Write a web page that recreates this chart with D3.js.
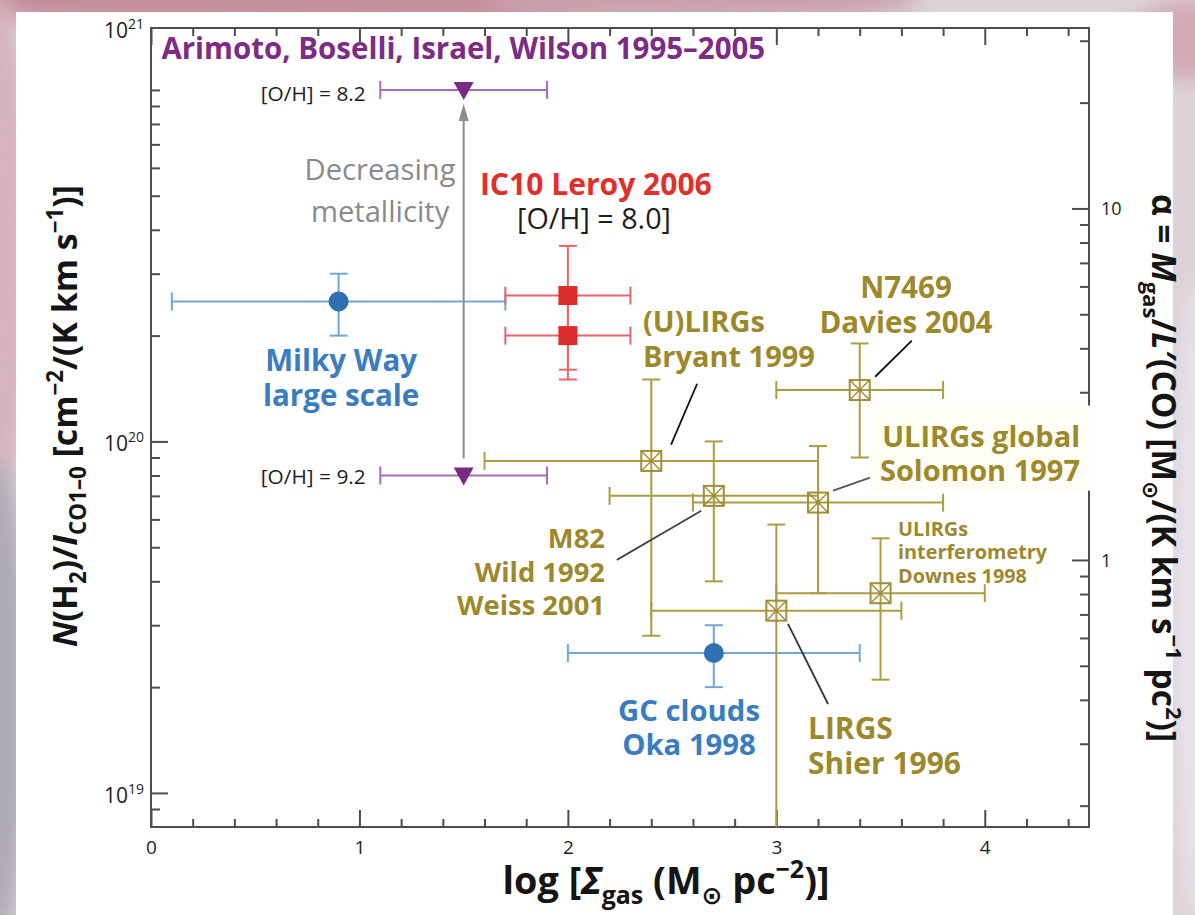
<!DOCTYPE html>
<html>
<head>
<meta charset="utf-8">
<script src="https://cdn.jsdelivr.net/npm/d3@7"></script>
<style>
  html, body { margin: 0; padding: 0; background: #fff; }
  svg { display: block; }
  text { font-family: "Open Sans", "Noto Sans", "DejaVu Sans", sans-serif; }
</style>
</head>
<body>
<svg id="chart" width="1195" height="915"></svg>
<script>
// ---------------- data ----------------
// x: log surface density of gas, y: CO-to-H2 conversion factor N(H2)/I_CO

// Milky Way large scale, Galactic centre clouds (blue)
const mwName = ["Milky Way large scale", "GC clouds Oka 1998"];
const mwX    = [0.9, 2.7];
const mwXlo  = [0.1, 2.0];
const mwXhi  = [1.7, 3.4];
const mwY    = [2.5e20, 2.5e19];
const mwYlo  = [2.0e20, 2.0e19];
const mwYhi  = [3.0e20, 3.0e19];

// IC10, Leroy 2006 (red)
const icX    = [2.0, 2.0];
const icXlo  = [1.7, 1.7];
const icXhi  = [2.3, 2.3];
const icY    = [2.6e20, 2.0e20];
const icYlo  = [1.6e20, 1.5e20];
const icYhi  = [3.6e20, 2.6e20];

// Metallicity bracket, Arimoto/Boselli/Israel/Wilson (purple)
const ohLabel = ["[O/H] = 8.2", "[O/H] = 9.2"];
const ohX    = [1.5, 1.5];
const ohXlo  = [1.1, 1.1];
const ohXhi  = [1.9, 1.9];
const ohY    = [1.0e21, 8.0e19];

// Starbursts and (U)LIRGs (olive)
const irName = ["Bryant 1999", "Davies 2004", "M82", "Solomon 1997", "Downes 1998", "Shier 1996"];
const irX    = [2.4, 3.4, 2.7, 3.2, 3.5, 3.0];
const irXlo  = [1.6, 3.0, 2.2, 2.6, 3.0, 2.4];
const irXhi  = [3.2, 3.8, 3.2, 3.8, 4.0, 3.6];
const irY    = [8.8e19, 1.4e20, 7.0e19, 6.7e19, 3.7e19, 3.3e19];
const irYlo  = [2.8e19, 9.0e19, 4.0e19, 3.7e19, 2.1e19, 5.0e18];
const irYhi  = [1.5e20, 1.9e20, 1.0e20, 9.7e19, 5.3e19, 5.8e19];

// axes
const xTicks      = [0, 1, 2, 3, 4];
const yTickExp    = [19, 20, 21];
const alphaTicks  = [1, 10];
const xcoPerAlpha = 4.6e19;   // X_CO for alpha = 1 Msun/(K km s^-1 pc^2)

// ---------------- layout ----------------
const W = 1195, H = 915;
const plot = { left: 151, right: 1089, top: 28, bottom: 827 };

const COL = {
  blue: "#3a7dbf", blueLine: "#6ea7d8", blueMark: "#2f70b3",
  red: "#e0302b", redLine: "#e8656d", redMark: "#db2d29",
  purple: "#7c2c86", purpleLine: "#a86cb6", purpleMark: "#7a2a84",
  olive: "#9c892b", oliveLine: "#ad9d42", oliveMark: "#a28e34",
  grey: "#8a8a8a", axis: "#4d4d4d", ink: "#1e1e1e"
};

const x = d3.scaleLinear().domain([0, 4.5]).range([plot.left, plot.right]);
const y = d3.scaleLog().domain([8e18, 1.5e21]).range([plot.bottom, plot.top]);
const yAlpha = d3.scaleLog()
  .domain(y.domain().map(v => v / xcoPerAlpha))
  .range([plot.bottom, plot.top]);
const yl = v => y(Math.pow(10, v));   // position from log10 value

const svg = d3.select("#chart");
const defs = svg.append("defs");
defs.append("filter").attr("id", "haze")
  .attr("x", "-50%").attr("y", "-50%").attr("width", "200%").attr("height", "200%")
  .append("feGaussianBlur").attr("stdDeviation", 9);
defs.append("clipPath").attr("id", "plotClip").append("rect")
  .attr("x", plot.left).attr("y", plot.top)
  .attr("width", plot.right - plot.left).attr("height", plot.bottom - plot.top);

// ---------------- backdrop ----------------
const bg = svg.append("g");
bg.append("rect").attr("width", W).attr("height", H).attr("fill", "#ddd2d7");
const haze = bg.append("g").attr("filter", "url(#haze)");
[
  [330, 0, 430, 26, "#c58e9b"],
  [700, 0, 220, 20, "#c9a0aa"],
  [0, 250, 26, 260, "#d5b2bd"],
  [0, 700, 26, 240, "#aeaab6"],
  [1195, 40, 70, 40, "#d3aab4"],
  [1195, 600, 22, 320, "#e6e2e8"]
].forEach(([cx, cy, rx, ry, c]) =>
  haze.append("ellipse").attr("cx", cx).attr("cy", cy).attr("rx", rx).attr("ry", ry).attr("fill", c));
bg.append("rect").attr("x", 16).attr("y", 12).attr("width", 1157).attr("height", H - 12).attr("fill", "#fff");

// ---------------- axes ----------------
const frame = svg.append("g");
const minorLog = (lo, hi, majors) => {
  const out = [];
  for (let e = Math.floor(Math.log10(lo)); e <= Math.ceil(Math.log10(hi)); e++)
    for (let m = 1; m < 10; m++) {
      const v = m * Math.pow(10, e);
      if (v > lo * 1.001 && v < hi && !majors.some(t => Math.abs(t - v) / v < 1e-6)) out.push(v);
    }
  return out;
};
const xMinor = d3.range(0.2, 4.5, 0.2).filter(v => Math.abs(v - Math.round(v)) > 1e-6);
const yMajor = [1e19, 1e20];
const yMinor = minorLog(8e18, 1.5e21, yMajor);
const aMinor = minorLog(yAlpha.domain()[0], yAlpha.domain()[1], alphaTicks);

function styleAxis(g) {
  g.select(".domain").remove();
  g.selectAll(".tick line").attr("stroke", COL.axis).attr("stroke-width", 2);
}
// bottom
frame.append("g").attr("transform", `translate(0,${plot.bottom})`)
  .call(d3.axisBottom(x).tickValues(xTicks).tickSize(-17).tickSizeOuter(0).tickPadding(14).tickFormat(d3.format("d")))
  .call(styleAxis)
  .call(g => g.selectAll("text").attr("font-size", 19).attr("fill", COL.ink).attr("font-family", null));
frame.append("g").attr("transform", `translate(0,${plot.bottom})`)
  .call(d3.axisBottom(x).tickValues(xMinor).tickSize(-8).tickSizeOuter(0).tickFormat(""))
  .call(styleAxis);
// top
frame.append("g").attr("transform", `translate(0,${plot.top})`)
  .call(d3.axisTop(x).tickValues(xTicks).tickSize(-17).tickSizeOuter(0).tickFormat(""))
  .call(styleAxis);
frame.append("g").attr("transform", `translate(0,${plot.top})`)
  .call(d3.axisTop(x).tickValues(xMinor).tickSize(-8).tickSizeOuter(0).tickFormat(""))
  .call(styleAxis);
// left
frame.append("g").attr("transform", `translate(${plot.left},0)`)
  .call(d3.axisLeft(y).tickValues(yMajor).tickSize(-17).tickSizeOuter(0).tickFormat(""))
  .call(styleAxis);
frame.append("g").attr("transform", `translate(${plot.left},0)`)
  .call(d3.axisLeft(y).tickValues(yMinor).tickSize(-9).tickSizeOuter(0).tickFormat(""))
  .call(styleAxis);
// right (alpha)
frame.append("g").attr("transform", `translate(${plot.right},0)`)
  .call(d3.axisRight(yAlpha).tickValues(alphaTicks).tickSize(-17).tickSizeOuter(0).tickFormat(""))
  .call(styleAxis);
frame.append("g").attr("transform", `translate(${plot.right},0)`)
  .call(d3.axisRight(yAlpha).tickValues(aMinor).tickSize(-9).tickSizeOuter(0).tickFormat(""))
  .call(styleAxis);

frame.append("rect")
  .attr("x", plot.left).attr("y", plot.top)
  .attr("width", plot.right - plot.left).attr("height", plot.bottom - plot.top)
  .attr("fill", "none").attr("stroke", COL.axis).attr("stroke-width", 2);

// left tick labels: powers of ten (the top one sits at the frame corner)
yTickExp.forEach(e => {
  const ty = e === 21 ? y.range()[1] : y(Math.pow(10, e));
  const t = frame.append("text").attr("x", plot.left - 7).attr("y", ty + 10)
    .attr("text-anchor", "end").attr("font-size", 21).attr("fill", COL.ink);
  t.append("tspan").text("10");
  t.append("tspan").attr("font-size", 14).attr("dy", -9).text(String(e));
});
// right tick labels
alphaTicks.forEach(a => {
  frame.append("text").attr("x", plot.right + 12).attr("y", yAlpha(a) + 7)
    .attr("font-size", 18).attr("fill", COL.ink).text(String(a));
});

// ---------------- rich text helpers ----------------
function rich(sel, parts, fs) {
  sel.selectAll("tspan").remove();
  let shift = 0;
  parts.forEach(p => {
    const part = typeof p === "string" ? { t: p } : p;
    const target = part.sub ? 0.26 * fs : part.sup ? -0.42 * fs : 0;
    const ts = sel.append("tspan").text(part.t);
    if (part.sub || part.sup) ts.attr("font-size", fs * 0.66);
    if (part.italic) ts.attr("font-style", "italic");
    if (target - shift) ts.attr("dy", target - shift);
    shift = target;
  });
}
function fitRich(sel, parts, fs, span) {
  sel.attr("font-size", fs); rich(sel, parts, fs);
  const nfs = fs * span / sel.node().getComputedTextLength();
  sel.attr("font-size", nfs); rich(sel, parts, nfs);
  return nfs;
}

// axis titles
fitRich(svg.append("text").attr("x", 666).attr("y", 894).attr("text-anchor", "middle")
  .attr("font-weight", "bold").attr("fill", "#151515"),
  ["log [", { t: "Σ", italic: true }, { t: "gas", sub: true }, " (M", { t: "⊙", sub: true },
   " pc", { t: "−2", sup: true }, ")]"], 34, 327);
fitRich(svg.append("text").attr("transform", "translate(77,416) rotate(-90)").attr("text-anchor", "middle")
  .attr("font-weight", "bold").attr("fill", "#151515"),
  [{ t: "N", italic: true }, "(H", { t: "2", sub: true }, ")/", { t: "I", italic: true },
   { t: "CO1–0", sub: true }, " [cm", { t: "−2", sup: true }, "/(K km s", { t: "−1", sup: true }, ")]"], 33, 462);
fitRich(svg.append("text").attr("transform", "translate(1152,468) rotate(90)").attr("text-anchor", "middle")
  .attr("font-weight", "bold").attr("fill", "#151515"),
  ["α = ", { t: "M", italic: true }, { t: "gas", sub: true }, "/", { t: "L′", italic: true },
   "(CO) [M", { t: "⊙", sub: true }, "/(K km s", { t: "−1", sup: true }, " pc", { t: "2", sup: true }, ")]"], 31, 548);

// ---------------- plot content ----------------
const body = svg.append("g").attr("clip-path", "url(#plotClip)");
const CAP = 9;

function errorBars(g, xs, xlo, xhi, ys, ylo, yhi, color) {
  xs.forEach((xv, i) => {
    const cy = y(ys[i]), cx = x(xv);
    const l = x(xlo[i]), r = x(xhi[i]);
    const lineAttrs = s => s.attr("stroke", color).attr("stroke-width", 2).attr("fill", "none");
    g.append("line").attr("x1", l).attr("x2", r).attr("y1", cy).attr("y2", cy).call(lineAttrs);
    [l, r].forEach(px => g.append("line").attr("x1", px).attr("x2", px)
      .attr("y1", cy - CAP).attr("y2", cy + CAP).call(lineAttrs));
    if (ylo && ylo[i] != null) {
      const b = y(ylo[i]), t = y(yhi[i]);
      g.append("line").attr("x1", cx).attr("x2", cx).attr("y1", b).attr("y2", t).call(lineAttrs);
      [b, t].forEach(py => g.append("line").attr("x1", cx - CAP).attr("x2", cx + CAP)
        .attr("y1", py).attr("y2", py).call(lineAttrs));
    }
  });
}

// metallicity arrow (behind the triangles)
const arrowG = body.append("g");
arrowG.append("line")
  .attr("x1", x(ohX[1])).attr("x2", x(ohX[1]))
  .attr("y1", y(ohY[1]) - 17).attr("y2", y(ohY[0]) + 26)
  .attr("stroke", "#8c8c8c").attr("stroke-width", 2);
arrowG.append("path")
  .attr("d", `M${x(ohX[0])},${y(ohY[0]) + 14} l-5,17 l10,0 z`)
  .attr("fill", "#8c8c8c");

errorBars(body, ohX, ohXlo, ohXhi, ohY, null, null, COL.purpleLine);
errorBars(body, mwX, mwXlo, mwXhi, mwY, mwYlo, mwYhi, COL.blueLine);
errorBars(body, irX, irXlo, irXhi, irY, irYlo, irYhi, COL.oliveLine);
errorBars(body, icX, icXlo, icXhi, icY, icYlo, icYhi, COL.redLine);

// markers
body.selectAll(".mw").data(mwX).join("circle")
  .attr("cx", d => x(d)).attr("cy", (d, i) => y(mwY[i])).attr("r", 10)
  .attr("fill", COL.blueMark);
body.selectAll(".ic").data(icX).join("rect")
  .attr("x", d => x(d) - 9.5).attr("y", (d, i) => y(icY[i]) - 9.5)
  .attr("width", 19).attr("height", 19).attr("fill", COL.redMark);
body.selectAll(".oh").data(ohX).join("path")
  .attr("d", (d, i) => `M${x(d) - 10},${y(ohY[i]) - 8} L${x(d) + 10},${y(ohY[i]) - 8} L${x(d)},${y(ohY[i]) + 10} Z`)
  .attr("fill", COL.purpleMark);
irX.forEach((xv, i) => {
  const cx = x(xv), cy = y(irY[i]), s = 10;
  const g = body.append("g").attr("stroke", COL.oliveMark).attr("stroke-width", 2).attr("fill", "none");
  g.append("rect").attr("x", cx - s).attr("y", cy - s).attr("width", 2 * s).attr("height", 2 * s);
  g.append("line").attr("x1", cx - s).attr("y1", cy - s).attr("x2", cx + s).attr("y2", cy + s).attr("stroke-width", 1.4);
  g.append("line").attr("x1", cx - s).attr("y1", cy + s).attr("x2", cx + s).attr("y2", cy - s).attr("stroke-width", 1.4);
  g.append("circle").attr("cx", cx).attr("cy", cy).attr("r", 2).attr("fill", COL.oliveMark).attr("stroke", "none");
});

// leader lines (data coordinates: log sigma, log X)
const leaders = [
  [[2.62, 20.164], [2.495, 19.991], "#111"],
  [[3.65, 20.287], [3.474, 20.184], "#111"],
  [[3.45, 19.897], [3.272, 19.860], "#555"],
  [[2.64, 19.803], [2.235, 19.663], "#444"],
  [[3.056, 19.481], [3.248, 19.253], "#333"]
];
leaders.forEach(([a, b, c]) => body.append("line")
  .attr("x1", x(a[0])).attr("y1", yl(a[1])).attr("x2", x(b[0])).attr("y2", yl(b[1]))
  .attr("stroke", c).attr("stroke-width", 1.8));

// label box for the Solomon group (sits over the frame edge)
svg.append("rect")
  .attr("x", x(3.449)).attr("y", yl(20.102))
  .attr("width", plot.right - x(3.449) + 1).attr("height", yl(19.860) - yl(20.102))
  .attr("fill", "#fefdf6");

// annotations: lines in data coordinates, one reference line sets the size
const notes = [
  { lines: ["Arimoto, Boselli, Israel, Wilson 1995–2005"], x: 0.05, ly: [21.087], anchor: "start", color: COL.purple, bold: true, ref: 0, span: 604 },
  { lines: [ohLabel[0]], x: ohXlo[0] - 0.07, ly: [20.968], anchor: "end", color: COL.ink, bold: false, ref: 0, span: 105 },
  { lines: [ohLabel[1]], x: ohXlo[1] - 0.07, ly: [19.880], anchor: "end", color: COL.ink, bold: false, ref: 0, span: 105 },
  { lines: ["Decreasing", "metallicity"], x: 1.099, ly: [20.743, 20.624], anchor: "middle", color: COL.grey, bold: false, ref: 0, span: 151 },
  { lines: ["IC10 Leroy 2006"], x: 1.578, ly: [20.702], anchor: "start", color: COL.red, bold: true, ref: 0, span: 232 },
  { lines: ["[O/H] = 8.0]"], x: 1.756, ly: [20.604], anchor: "start", color: COL.ink, bold: false, ref: 0, span: 154 },
  { lines: ["Milky Way", "large scale"], x: 0.912, ly: [20.201, 20.102], anchor: "middle", color: COL.blue, bold: true, ref: 0, span: 152 },
  { lines: ["(U)LIRGs", "Bryant 1999"], x: 2.36, ly: [20.311, 20.213], anchor: "start", color: COL.olive, bold: true, ref: 1, span: 172 },
  { lines: ["N7469", "Davies 2004"], x: 3.622, ly: [20.409, 20.308], anchor: "middle", color: COL.olive, bold: true, ref: 1, span: 173 },
  { lines: ["ULIRGs global", "Solomon 1997"], x: 4.457, ly: [19.983, 19.886], anchor: "end", color: COL.olive, bold: true, ref: 0, span: 198 },
  { lines: ["ULIRGs", "interferometry", "Downes 1998"], x: 3.584, ly: [19.731, 19.665, 19.598], anchor: "start", color: COL.olive, bold: true, ref: 1, span: 149 },
  { lines: ["M82", "Wild 1992", "Weiss 2001"], x: 2.178, ly: [19.698, 19.600, 19.505], anchor: "end", color: COL.olive, bold: true, ref: 2, span: 148 },
  { lines: ["GC clouds", "Oka 1998"], x: 2.581, ly: [19.206, 19.107], anchor: "middle", color: COL.blue, bold: true, ref: 0, span: 142 },
  { lines: ["LIRGS", "Shier 1996"], x: 3.152, ly: [19.154, 19.054], anchor: "start", color: COL.olive, bold: true, ref: 1, span: 153 }
];
const noteG = svg.append("g");
notes.forEach(n => {
  const probe = noteG.append("text").attr("font-size", 28)
    .attr("font-weight", n.bold ? "bold" : "normal").text(n.lines[n.ref]);
  const fs = 28 * n.span / probe.node().getComputedTextLength();
  probe.remove();
  n.lines.forEach((line, k) => {
    noteG.append("text")
      .attr("x", x(n.x)).attr("y", yl(n.ly[k]))
      .attr("text-anchor", n.anchor)
      .attr("font-size", fs)
      .attr("font-weight", n.bold ? "bold" : "normal")
      .attr("fill", n.color)
      .text(line);
  });
});
</script>
</body>
</html>
